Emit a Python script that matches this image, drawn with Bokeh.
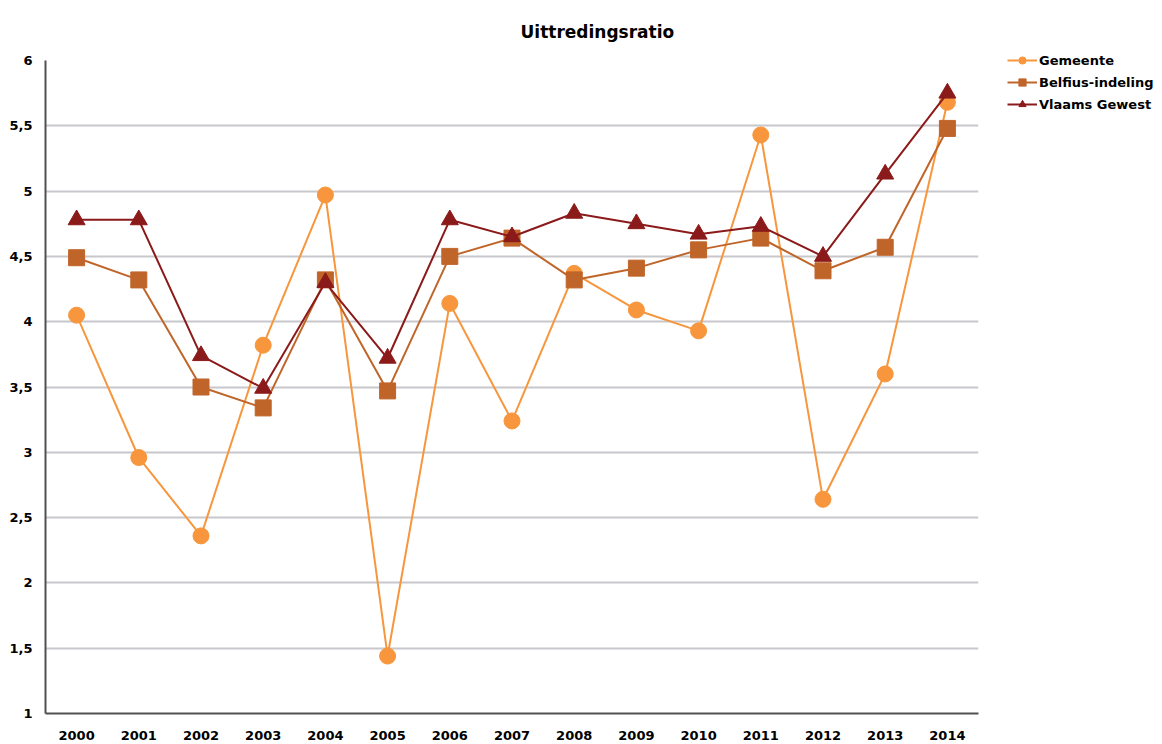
from bokeh.plotting import figure
from bokeh.models import FactorRange, Range1d, FixedTicker, CustomJSTickFormatter, Legend, Title
from bokeh.embed import file_html
from bokeh.resources import INLINE

years = ["2000", "2001", "2002", "2003", "2004", "2005", "2006", "2007",
         "2008", "2009", "2010", "2011", "2012", "2013", "2014"]
gemeente = [4.05, 2.96, 2.36, 3.82, 4.97, 1.44, 4.14, 3.24, 4.37, 4.09, 3.93, 5.43, 2.64, 3.60, 5.68]
belfius = [4.49, 4.32, 3.50, 3.34, 4.32, 3.47, 4.50, 4.64, 4.32, 4.41, 4.55, 4.64, 4.39, 4.57, 5.48]
vlaams = [4.78, 4.78, 3.74, 3.49, 4.30, 3.72, 4.78, 4.65, 4.83, 4.75, 4.67, 4.73, 4.50, 5.13, 5.75]
y_ticks = [1, 1.5, 2, 2.5, 3, 3.5, 4, 4.5, 5, 5.5, 6]

FONT = "DejaVu Sans"

p = figure(frame_width=933, frame_height=653, output_backend="svg", toolbar_location=None,
           x_range=FactorRange(factors=years, range_padding=0),
           y_range=Range1d(1, 6),
           min_border_left=45, min_border_right=176, min_border_top=60, min_border_bottom=28)
p.outline_line_color = None
p.title = Title(text="Uittredingsratio", align="left", offset=475,
                text_font=FONT, text_font_size="17px", text_font_style="bold",
                text_color="#000000", standoff=38)

c_gem = "#F7963C"
c_bel = "#C0652A"
c_vla = "#8B1A1A"

r1 = p.line(years, gemeente, line_color=c_gem, line_width=2)
s1 = p.scatter(years, gemeente, marker="circle", size=16, fill_color=c_gem, line_color=c_gem)
r2 = p.line(years, belfius, line_color=c_bel, line_width=2)
s2 = p.scatter(years, belfius, marker="square", size=16, fill_color=c_bel, line_color=c_bel)
r3 = p.line(years, vlaams, line_color=c_vla, line_width=2)
s3 = p.scatter(years, vlaams, marker="triangle", size=17, fill_color=c_vla, line_color=c_vla)

legend = Legend(items=[("Gemeente", [r1, s1]), ("Belfius-indeling", [r2, s2]),
                       ("Vlaams Gewest", [r3, s3])],
                location=(29, 600), border_line_color=None, background_fill_alpha=0,
                label_text_font=FONT, label_text_font_size="13px", label_text_font_style="bold",
                label_text_color="#000000",
                glyph_width=30, glyph_height=18, spacing=4, padding=0, margin=0,
                label_standoff=2)
p.add_layout(legend, "right")

p.xgrid.grid_line_color = None
p.ygrid.grid_line_color = "#C8C8CC"
p.ygrid.grid_line_width = 2
p.yaxis.ticker = FixedTicker(ticks=y_ticks)
p.yaxis.formatter = CustomJSTickFormatter(code="return tick.toString().replace('.', ',');")

for ax in (p.xaxis, p.yaxis):
    ax.axis_line_color = "#505050"
    ax.axis_line_width = 2
    ax.major_tick_line_color = None
    ax.minor_tick_line_color = None
    ax.major_label_text_font = FONT
    ax.major_label_text_font_size = "13px"
    ax.major_label_text_font_style = "bold"
    ax.major_label_text_color = "#000000"
p.yaxis.major_label_standoff = 7
p.xaxis.major_label_standoff = 11

open("out.html", "w").write(file_html(p, INLINE))
